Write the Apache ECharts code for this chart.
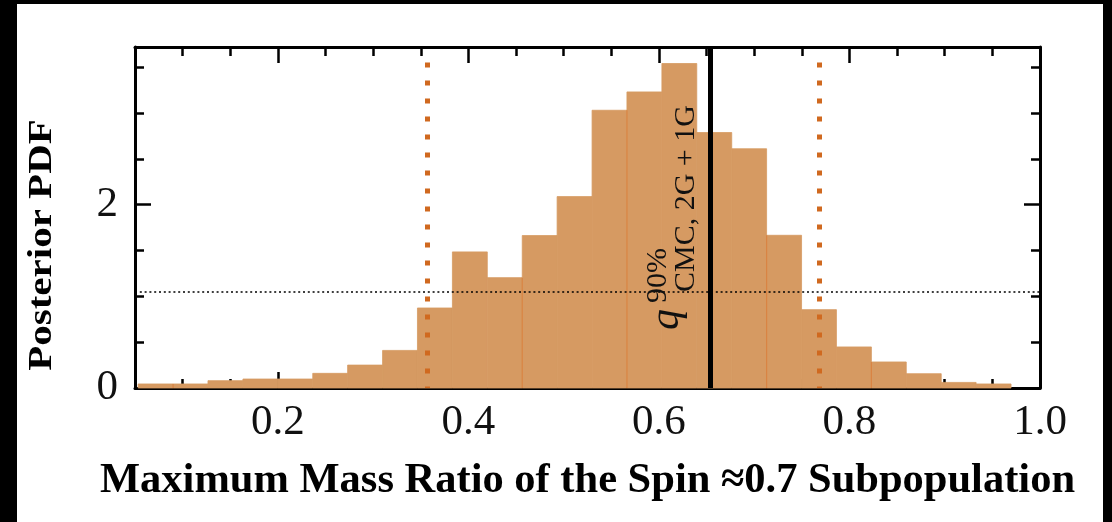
<!DOCTYPE html>
<html><head><meta charset="utf-8">
<script src="https://cdn.jsdelivr.net/npm/echarts@6/dist/echarts.min.js"></script>
<style>
html,body{margin:0;padding:0;background:#000;width:1112px;height:522px;overflow:hidden;}
#main{position:absolute;left:17px;top:4px;width:1086px;height:518px;background:#fff;}
</style>
</head><body><div id="main"></div>
<script>
// ---- data ----
const binEdges = [0.0533, 0.0900, 0.1266, 0.1633, 0.1999, 0.2366, 0.2732, 0.3099, 0.3465, 0.3832,
  0.4198, 0.4565, 0.4931, 0.5298, 0.5664, 0.6031, 0.6397, 0.6764, 0.7130, 0.7497,
  0.7863, 0.8230, 0.8596, 0.8963, 0.9329, 0.9696];
const pdfValues = [0.044, 0.044, 0.080, 0.098, 0.098, 0.160, 0.250, 0.410, 0.873, 1.485,
  1.204, 1.663, 2.088, 3.030, 3.230, 3.540, 2.787, 2.610, 1.666, 0.855,
  0.448, 0.284, 0.156, 0.061, 0.044];
const seamEdgeIndex = [1, 11, 14, 18, 21];
const priorDensity = 1.0526;
const credibleBounds = [0.357, 0.768];
const credibleTop = 3.55;
const qCmc90 = 0.654;
const xRange = [0.05, 1.0];
const yRange = [0, 3.72];
const xMajorTicks = [0.2, 0.4, 0.6, 0.8, 1.0];
const xMinorTicks = [0.05, 0.1, 0.15, 0.25, 0.3, 0.35, 0.45, 0.5, 0.55, 0.65, 0.7, 0.75, 0.85, 0.9, 0.95];
const yMajorTicks = [0, 2];
const yMinorTicks = [0.5, 1, 1.5, 2.5, 3, 3.5];
const xTitle = 'Maximum Mass Ratio of the Spin \u22480.7 Subpopulation';
const yTitle = 'Posterior PDF';

// ---- styles ----
const SERIF = '"Liberation Serif", "DejaVu Serif", serif';
const barColor = '#d69a62';
const seamColor = '#d98443';
const boundColor = '#d0691f';

function mkX(position, ticks, len, showLine, showLabel) {
  return {
    type: 'value', position: position, min: xRange[0], max: xRange[1],
    axisLine: { show: showLine, onZero: false, lineStyle: { color: '#000', width: 3 } },
    axisTick: { show: true, inside: true, length: len, customValues: ticks, lineStyle: { color: '#000', width: 2.5 } },
    axisLabel: { show: showLabel, customValues: ticks, margin: 13, color: '#111', fontFamily: SERIF, fontSize: 43,
      formatter: v => v.toFixed(1) },
    splitLine: { show: false }
  };
}
function mkY(position, ticks, len, showLine, showLabel) {
  return {
    type: 'value', position: position, min: yRange[0], max: yRange[1],
    axisLine: { show: showLine, onZero: false, lineStyle: { color: '#000', width: 3 } },
    axisTick: { show: true, inside: true, length: len, customValues: ticks, lineStyle: { color: '#000', width: 2.5 } },
    axisLabel: { show: showLabel, customValues: ticks, margin: 17, color: '#111', fontFamily: SERIF, fontSize: 43,
      formatter: v => String(v) },
    splitLine: { show: false }
  };
}

const xMain = mkX('bottom', xMajorTicks, 16, true, true);
xMain.name = xTitle;
xMain.nameLocation = 'middle';
xMain.nameGap = 72;
xMain.nameTextStyle = { fontFamily: SERIF, fontWeight: 'bold', fontSize: 42.5, color: '#000' };

const histData = pdfValues.map((h, i) => [binEdges[i], binEdges[i + 1], h]);
const seamData = seamEdgeIndex.map(i => [binEdges[i], Math.min(pdfValues[i - 1], pdfValues[i])]);

const chart = echarts.init(document.getElementById('main'), null, { renderer: 'canvas' });
chart.setOption({
  animation: false,
  backgroundColor: '#fff',
  grid: { left: 118, right: 63, top: 43, bottom: 134 },
  xAxis: [
    xMain,
    mkX('bottom', xMinorTicks, 9, false, false),
    mkX('top', xMajorTicks, 16, true, false),
    mkX('top', xMinorTicks, 9, false, false)
  ],
  yAxis: [
    mkY('left', yMajorTicks, 16, true, true),
    mkY('left', yMinorTicks, 9, false, false),
    mkY('right', yMajorTicks, 16, true, false),
    mkY('right', yMinorTicks, 9, false, false)
  ],
  series: [
    {
      type: 'custom', xAxisIndex: 0, yAxisIndex: 0, z: 1,
      data: histData,
      renderItem: function (params, api) {
        const p0 = api.coord([api.value(0), api.value(2)]);
        const p1 = api.coord([api.value(1), 0]);
        return { type: 'rect', shape: { x: p0[0], y: p0[1], width: p1[0] - p0[0], height: p1[1] - p0[1] },
          style: { fill: barColor, stroke: barColor, lineWidth: 0.8 } };
      }
    },
    {
      type: 'custom', xAxisIndex: 0, yAxisIndex: 0, z: 2,
      data: seamData,
      renderItem: function (params, api) {
        const a = api.coord([api.value(0), api.value(1)]);
        const b = api.coord([api.value(0), 0]);
        return { type: 'line', shape: { x1: a[0], y1: a[1], x2: b[0], y2: b[1] },
          style: { stroke: seamColor, lineWidth: 1.2 } };
      }
    },
    {
      type: 'line', xAxisIndex: 0, yAxisIndex: 0, data: [], z: 5,
      markLine: {
        silent: true, symbol: 'none', animation: false, label: { show: false },
        data: [
          [{ coord: [xRange[0], priorDensity], lineStyle: { color: '#000', width: 1.6, type: [2, 2.8] } },
           { coord: [xRange[1], priorDensity] }],
          [{ coord: [credibleBounds[0], credibleTop], lineStyle: { color: boundColor, width: 5, type: [5, 13], cap: 'butt' } },
           { coord: [credibleBounds[0], 0] }],
          [{ coord: [credibleBounds[1], credibleTop], lineStyle: { color: boundColor, width: 5, type: [5, 13], cap: 'butt' } },
           { coord: [credibleBounds[1], 0] }],
          [{ coord: [qCmc90, yRange[1]], lineStyle: { color: '#000', width: 5, type: 'solid' } },
           { coord: [qCmc90, 0] }]
        ]
      }
    }
  ]
});

// annotation texts anchored to the q line through the axes' scales
const base = chart.convertToPixel({ xAxisIndex: 0, yAxisIndex: 0 }, [qCmc90, 0]);
const R = Math.PI / 2;
chart.setOption({
  graphic: [
    { type: 'text', x: base[0] - 43.5, y: base[1] - 58, rotation: R, z: 10,
      style: { text: 'q', font: 'italic 42px ' + SERIF, fill: '#111', align: 'left', verticalAlign: 'middle' } },
    { type: 'text', x: base[0] - 24.4, y: base[1] - 96, rotation: R, z: 10,
      style: { text: 'CMC, 2G + 1G', font: '30px ' + SERIF, fill: '#111', align: 'left', verticalAlign: 'middle' } },
    { type: 'text', x: base[0] - 52.3, y: base[1] - 85, rotation: R, z: 10,
      style: { text: '90%', font: '30px ' + SERIF, fill: '#111', align: 'left', verticalAlign: 'middle' } },
    { type: 'text', x: 26, y: 241, rotation: R, z: 10, scaleY: 0.8,
      style: { text: yTitle, font: 'bold 41px ' + SERIF, fill: '#000', align: 'center', verticalAlign: 'middle' } }
  ]
});
</script>
</body></html>
